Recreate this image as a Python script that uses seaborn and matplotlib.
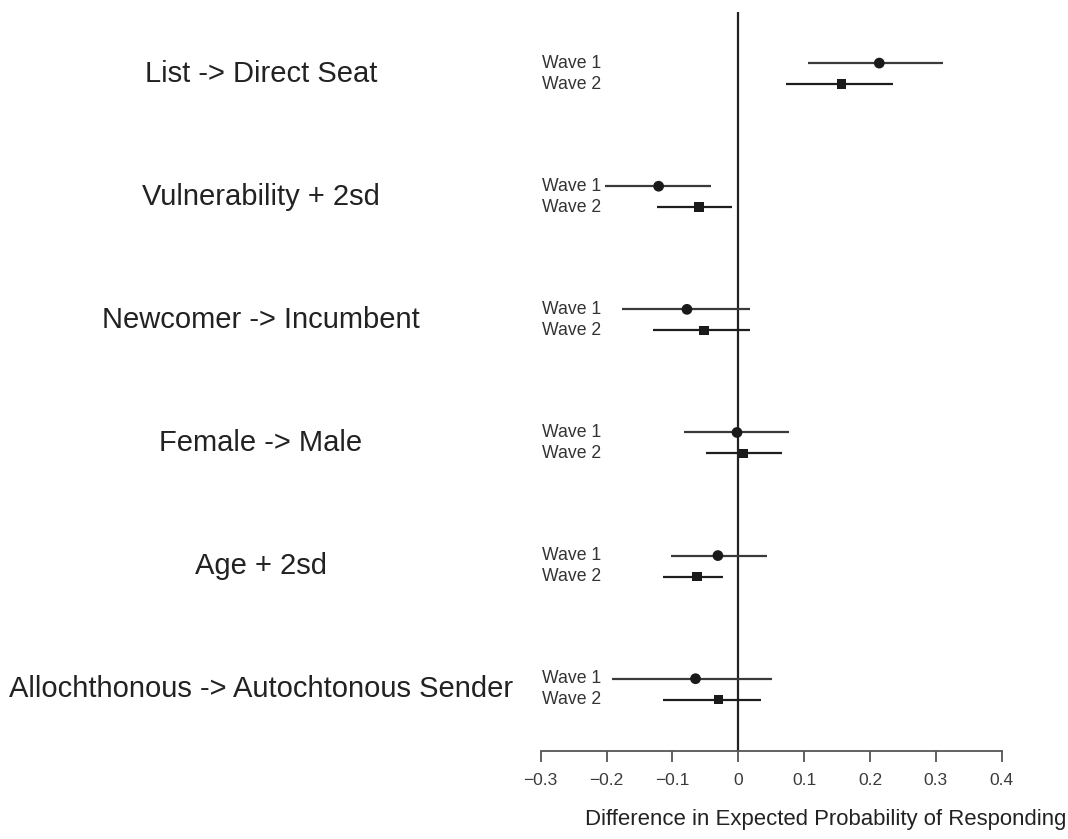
import numpy as np
import pandas as pd
import matplotlib
matplotlib.use("Agg")
import matplotlib.pyplot as plt
import matplotlib.transforms as mtransforms
import seaborn as sns

# contrasts, top to bottom
LABELS = ["List -> Direct Seat", "Vulnerability + 2sd", "Newcomer -> Incumbent",
          "Female -> Male", "Age + 2sd", "Allochthonous -> Autochtonous Sender"]

# estimates and 95% intervals
W1_EST = [0.214, -0.121, -0.078, -0.002, -0.031, -0.065]
W1_LO = [0.106, -0.202, -0.177, -0.082, -0.102, -0.192]
W1_HI = [0.310, -0.042, 0.018, 0.077, 0.044, 0.051]

W2_EST = [0.157, -0.060, -0.052, 0.008, -0.063, -0.030]
W2_LO = [0.073, -0.124, -0.130, -0.049, -0.114, -0.115]
W2_HI = [0.235, -0.009, 0.017, 0.066, -0.024, 0.035]

XTICKS = [-0.3, -0.2, -0.1, 0, 0.1, 0.2, 0.3, 0.4]
XTICKLABELS = ["\u22120.3", "\u22120.2", "\u22120.1", "0", "0.1", "0.2", "0.3", "0.4"]

sns.set_style("white")
plt.rcParams['font.family'] = ['Liberation Sans', 'DejaVu Sans']

rows = []
for i, lab in enumerate(LABELS):
    rows.append(dict(label=lab, wave="Wave 1", est=W1_EST[i], lo=W1_LO[i], hi=W1_HI[i], y=i + 0.5 - 0.085))
    rows.append(dict(label=lab, wave="Wave 2", est=W2_EST[i], lo=W2_LO[i], hi=W2_HI[i], y=i + 0.5 + 0.085))
df = pd.DataFrame(rows)

fig = plt.figure(figsize=(10.68, 8.39), dpi=100)
ax = fig.add_axes([0.5063, 0.1052, 0.4317, 0.8805])

# intervals
w1 = df[df.wave == "Wave 1"]
w2 = df[df.wave == "Wave 2"]
ax.hlines(w1.y, w1.lo, w1.hi, color="#3a3a3a", lw=1.6, zorder=2)
ax.hlines(w2.y, w2.lo, w2.hi, color="#1e1e1e", lw=1.6, zorder=2)

sns.scatterplot(data=df, x="est", y="y", style="wave", size="wave",
                markers={"Wave 1": "o", "Wave 2": "s"},
                sizes={"Wave 1": 60, "Wave 2": 46}, color="#1a1a1a", edgecolor="none",
                legend=False, ax=ax, zorder=3)

ax.axvline(0, color="#222222", lw=1.6, zorder=1)

ax.set_xlim(-0.3, 0.4)
ax.set_ylim(6, 0)
ax.set_yticks([])
ax.set_xticks(XTICKS)
ax.set_xticklabels(XTICKLABELS, fontsize=12.5, color="#3a3a3a")
ax.tick_params(axis="x", bottom=True, direction="out", length=8, width=1.3, color="#555555", pad=8)
for side in ["top", "right", "left"]:
    ax.spines[side].set_visible(False)
ax.spines["bottom"].set_color("#555555")
ax.spines["bottom"].set_linewidth(1.3)
ax.set_xlabel("")
ax.set_ylabel("")

# wave labels
wt = mtransforms.blended_transform_factory(ax.transAxes, ax.transData)
for _, r in df.iterrows():
    ax.text(0.002, r.y, r.wave, transform=wt, ha="left", va="center",
            fontsize=12.7, color="#333333")

# contrast labels
tr = mtransforms.blended_transform_factory(fig.transFigure, ax.transData)
for i, lab in enumerate(LABELS):
    ax.text(261 / 1068, i + 0.5, lab, transform=tr, ha="center", va="center",
            fontsize=21, color="#222222", clip_on=False)

fig.text(826 / 1068, 1 - 820 / 839, "Difference in Expected Probability of Responding",
         ha="center", va="center", fontsize=15.9, color="#222222")

fig.savefig("out.png", dpi=100, facecolor="white")
